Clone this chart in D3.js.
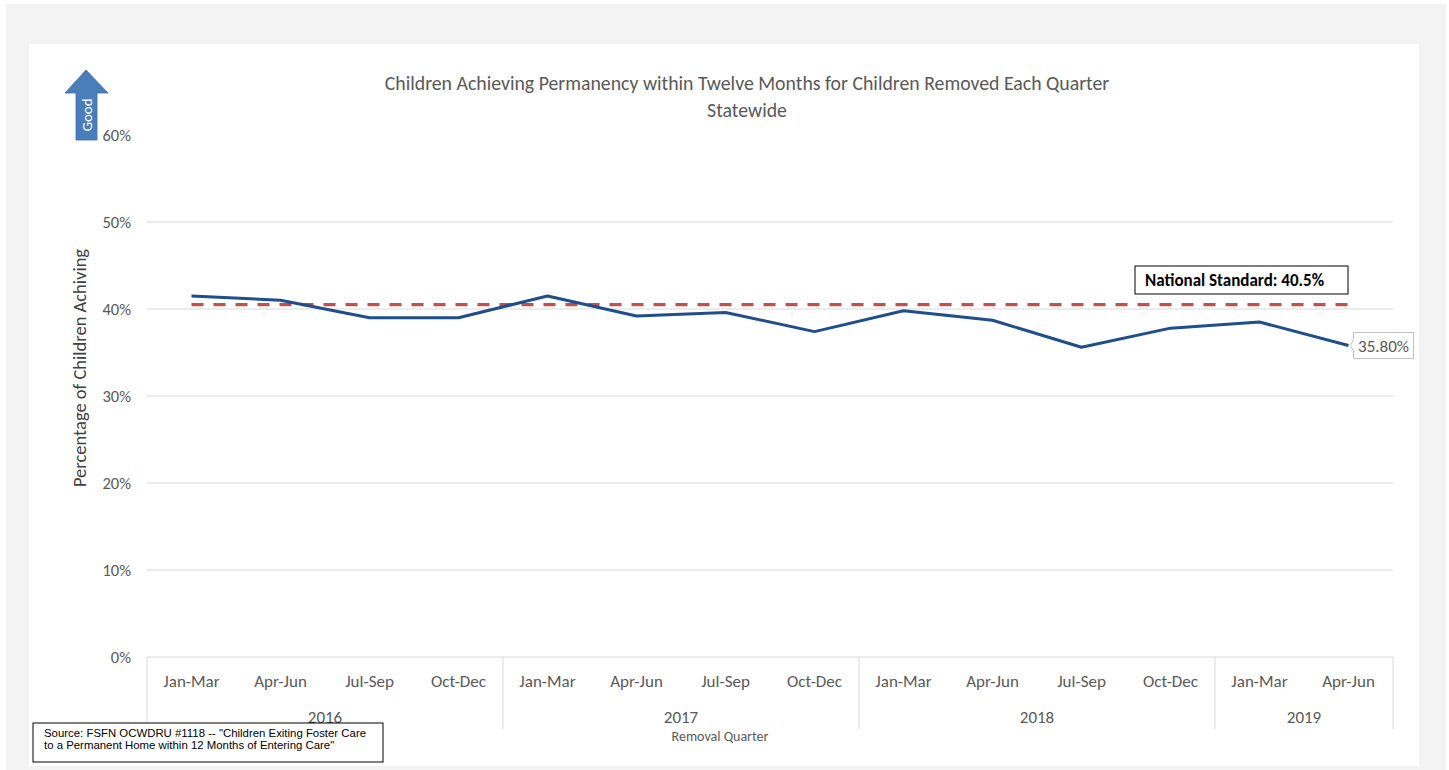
<!DOCTYPE html>
<html>
<head>
<meta charset="utf-8">
<script src="https://cdn.jsdelivr.net/npm/d3@7"></script>
<style>
  html, body { margin: 0; padding: 0; background: #ffffff; }
  svg { display: block; }
  text { font-family: "Carlito", "Lato", "Open Sans", sans-serif; }
</style>
</head>
<body>
<svg id="chart" width="1449" height="770"></svg>
<script>
// ---------- data ----------
const quarters = ["Jan-Mar","Apr-Jun","Jul-Sep","Oct-Dec","Jan-Mar","Apr-Jun","Jul-Sep","Oct-Dec","Jan-Mar","Apr-Jun","Jul-Sep","Oct-Dec","Jan-Mar","Apr-Jun"];
const years = ["2016","2016","2016","2016","2017","2017","2017","2017","2018","2018","2018","2018","2019","2019"];
const yearGroups = ["2016","2017","2018","2019"];
const values = [41.5, 41.0, 39.0, 39.0, 41.5, 39.2, 39.6, 37.4, 39.8, 38.7, 35.6, 37.8, 38.5, 35.8];
const nationalStandard = 40.5;
const yTicks = [0, 10, 20, 30, 40, 50, 60];
const titleLines = ["Children Achieving Permanency within Twelve Months for Children Removed Each Quarter", "Statewide"];
const yAxisTitle = "Percentage of Children Achiving";
const xAxisTitle = "Removal Quarter";
const standardLabel = "National Standard: 40.5%";
const endLabel = "35.80%";
const sourceLines = ["Source: FSFN OCWDRU #1118 -- \"Children Exiting Foster Care", "to a Permanent Home within 12 Months of Entering Care\""];
const arrowLabel = "Good";

// ---------- layout ----------
const svg = d3.select("#chart");
const plot = { left: 147, right: 1393, top: 135, bottom: 657 };

svg.append("rect").attr("x", 6).attr("y", 4).attr("width", 1440).attr("height", 766).attr("fill", "#f3f3f3");
svg.append("rect").attr("x", 29).attr("y", 44).attr("width", 1390).attr("height", 722).attr("fill", "#ffffff");

const idx = quarters.map((d, i) => i);
const x = d3.scaleBand().domain(idx).range([plot.left, plot.right]).paddingInner(0).paddingOuter(0);
const y = d3.scaleLinear().domain([0, 60]).range([plot.bottom, plot.top]);
const cx = i => x(i) + x.bandwidth() / 2;

// gridlines
svg.append("g")
  .selectAll("line").data(yTicks.filter(t => t > 0 && t < 60)).join("line")
  .attr("x1", plot.left).attr("x2", plot.right)
  .attr("y1", d => y(d)).attr("y2", d => y(d))
  .attr("stroke", "#d9d9d9").attr("stroke-width", 1);

// y axis labels
const yAxis = d3.axisLeft(y).tickValues(yTicks).tickFormat(d => d + "%").tickSize(0).tickPadding(0);
const yg = svg.append("g").attr("transform", `translate(131,0)`).call(yAxis);
yg.select(".domain").remove();
yg.selectAll("text").attr("fill", "#595959").style("font-size", "16.5px").style("font-family", "Carlito, Lato, sans-serif");

// x axis line + group separators
svg.append("line").attr("x1", plot.left).attr("x2", plot.right)
  .attr("y1", plot.bottom).attr("y2", plot.bottom).attr("stroke", "#d9d9d9").attr("stroke-width", 1);

const groupBounds = yearGroups.map(g => {
  const ii = idx.filter(i => years[i] === g);
  return { name: g, x0: x(ii[0]), x1: x(ii[ii.length - 1]) + x.bandwidth() };
});
const seps = [plot.left].concat(groupBounds.map(g => g.x1));
svg.append("g").selectAll("line").data(seps).join("line")
  .attr("x1", d => d).attr("x2", d => d)
  .attr("y1", plot.bottom).attr("y2", 729)
  .attr("stroke", "#d9d9d9").attr("stroke-width", 1);

// category labels
const xAxis = d3.axisBottom(x).tickFormat(i => quarters[i]).tickSize(0).tickPadding(0);
const xg = svg.append("g").attr("transform", `translate(0,${plot.bottom + 18})`).call(xAxis);
xg.select(".domain").remove();
xg.selectAll("text").attr("fill", "#595959").style("font-size", "17px").style("font-family", "Carlito, Lato, sans-serif");

// year labels
svg.append("g").selectAll("text").data(groupBounds).join("text")
  .attr("x", d => (d.x0 + d.x1) / 2).attr("y", 723)
  .attr("text-anchor", "middle").attr("fill", "#595959").style("font-size", "17px")
  .text(d => d.name);

// x axis title
svg.append("text").attr("x", 720).attr("y", 741).attr("text-anchor", "middle")
  .attr("fill", "#595959").style("font-size", "14px").text(xAxisTitle);

// y axis title
svg.append("text").attr("transform", "translate(86,368) rotate(-90)").attr("text-anchor", "middle")
  .attr("fill", "#404040").style("font-size", "18.5px").text(yAxisTitle);

// title
svg.append("g").selectAll("text").data(titleLines).join("text")
  .attr("x", 747).attr("y", (d, i) => 90 + i * 27).attr("text-anchor", "middle")
  .attr("fill", "#595959").style("font-size", "19.8px").text(d => d);

// national standard dashed line
svg.append("line")
  .attr("x1", cx(0)).attr("x2", cx(quarters.length - 1))
  .attr("y1", y(nationalStandard)).attr("y2", y(nationalStandard))
  .attr("stroke", "#c0504d").attr("stroke-width", 3.3).attr("stroke-dasharray", "12,10");

// data line
const line = d3.line().x((d, i) => cx(i)).y(d => y(d));
svg.append("path").datum(values).attr("d", line)
  .attr("fill", "none").attr("stroke", "#1f4e8c").attr("stroke-width", 3).attr("stroke-linejoin", "round");

// national standard label box
const nsBox = svg.append("g");
nsBox.append("rect").attr("x", 1135).attr("y", 266).attr("width", 213).attr("height", 28)
  .attr("fill", "#ffffff").attr("stroke", "#000000").attr("stroke-width", 1);
nsBox.append("text").attr("x", 1145).attr("y", 286).attr("fill", "#000000")
  .style("font-size", "17px").style("font-weight", "bold").text(standardLabel);

// end data label
const lastI = values.length - 1;
const ex = cx(lastI), ey = y(values[lastI]);
svg.append("path")
  .attr("d", `M${ex + 2},${ey} L${ex + 5},${ey - 6} L${ex + 5},${ey - 13} L${ex + 65},${ey - 13} L${ex + 65},${ey + 13} L${ex + 5},${ey + 13} L${ex + 5},${ey + 5} Z`)
  .attr("fill", "#ffffff").attr("stroke", "#bfbfbf").attr("stroke-width", 1);
svg.append("text").attr("x", ex + 35).attr("y", ey + 6).attr("text-anchor", "middle")
  .attr("fill", "#595959").style("font-size", "17px").text(endLabel);

// "Good" arrow
svg.append("path")
  .attr("d", "M86,70 L108,93 L97,93 L97,140 L76,140 L76,93 L65,93 Z")
  .attr("fill", "#4a7ebb").attr("stroke", "#3d6ea8").attr("stroke-width", 0.8);
svg.append("text").attr("transform", "translate(92,115) rotate(-90)").attr("text-anchor", "middle")
  .attr("fill", "#ffffff").style("font-size", "15px").text(arrowLabel);

// source box
svg.append("rect").attr("x", 33).attr("y", 723).attr("width", 350).attr("height", 39)
  .attr("fill", "#ffffff").attr("stroke", "#000000").attr("stroke-width", 1);
svg.append("g").selectAll("text").data(sourceLines).join("text")
  .attr("x", 44).attr("y", (d, i) => 737 + i * 12)
  .style("font-family", "'Liberation Sans', Arial, sans-serif").style("font-size", "11.4px")
  .attr("fill", "#000000").text(d => d);
</script>
</body>
</html>
